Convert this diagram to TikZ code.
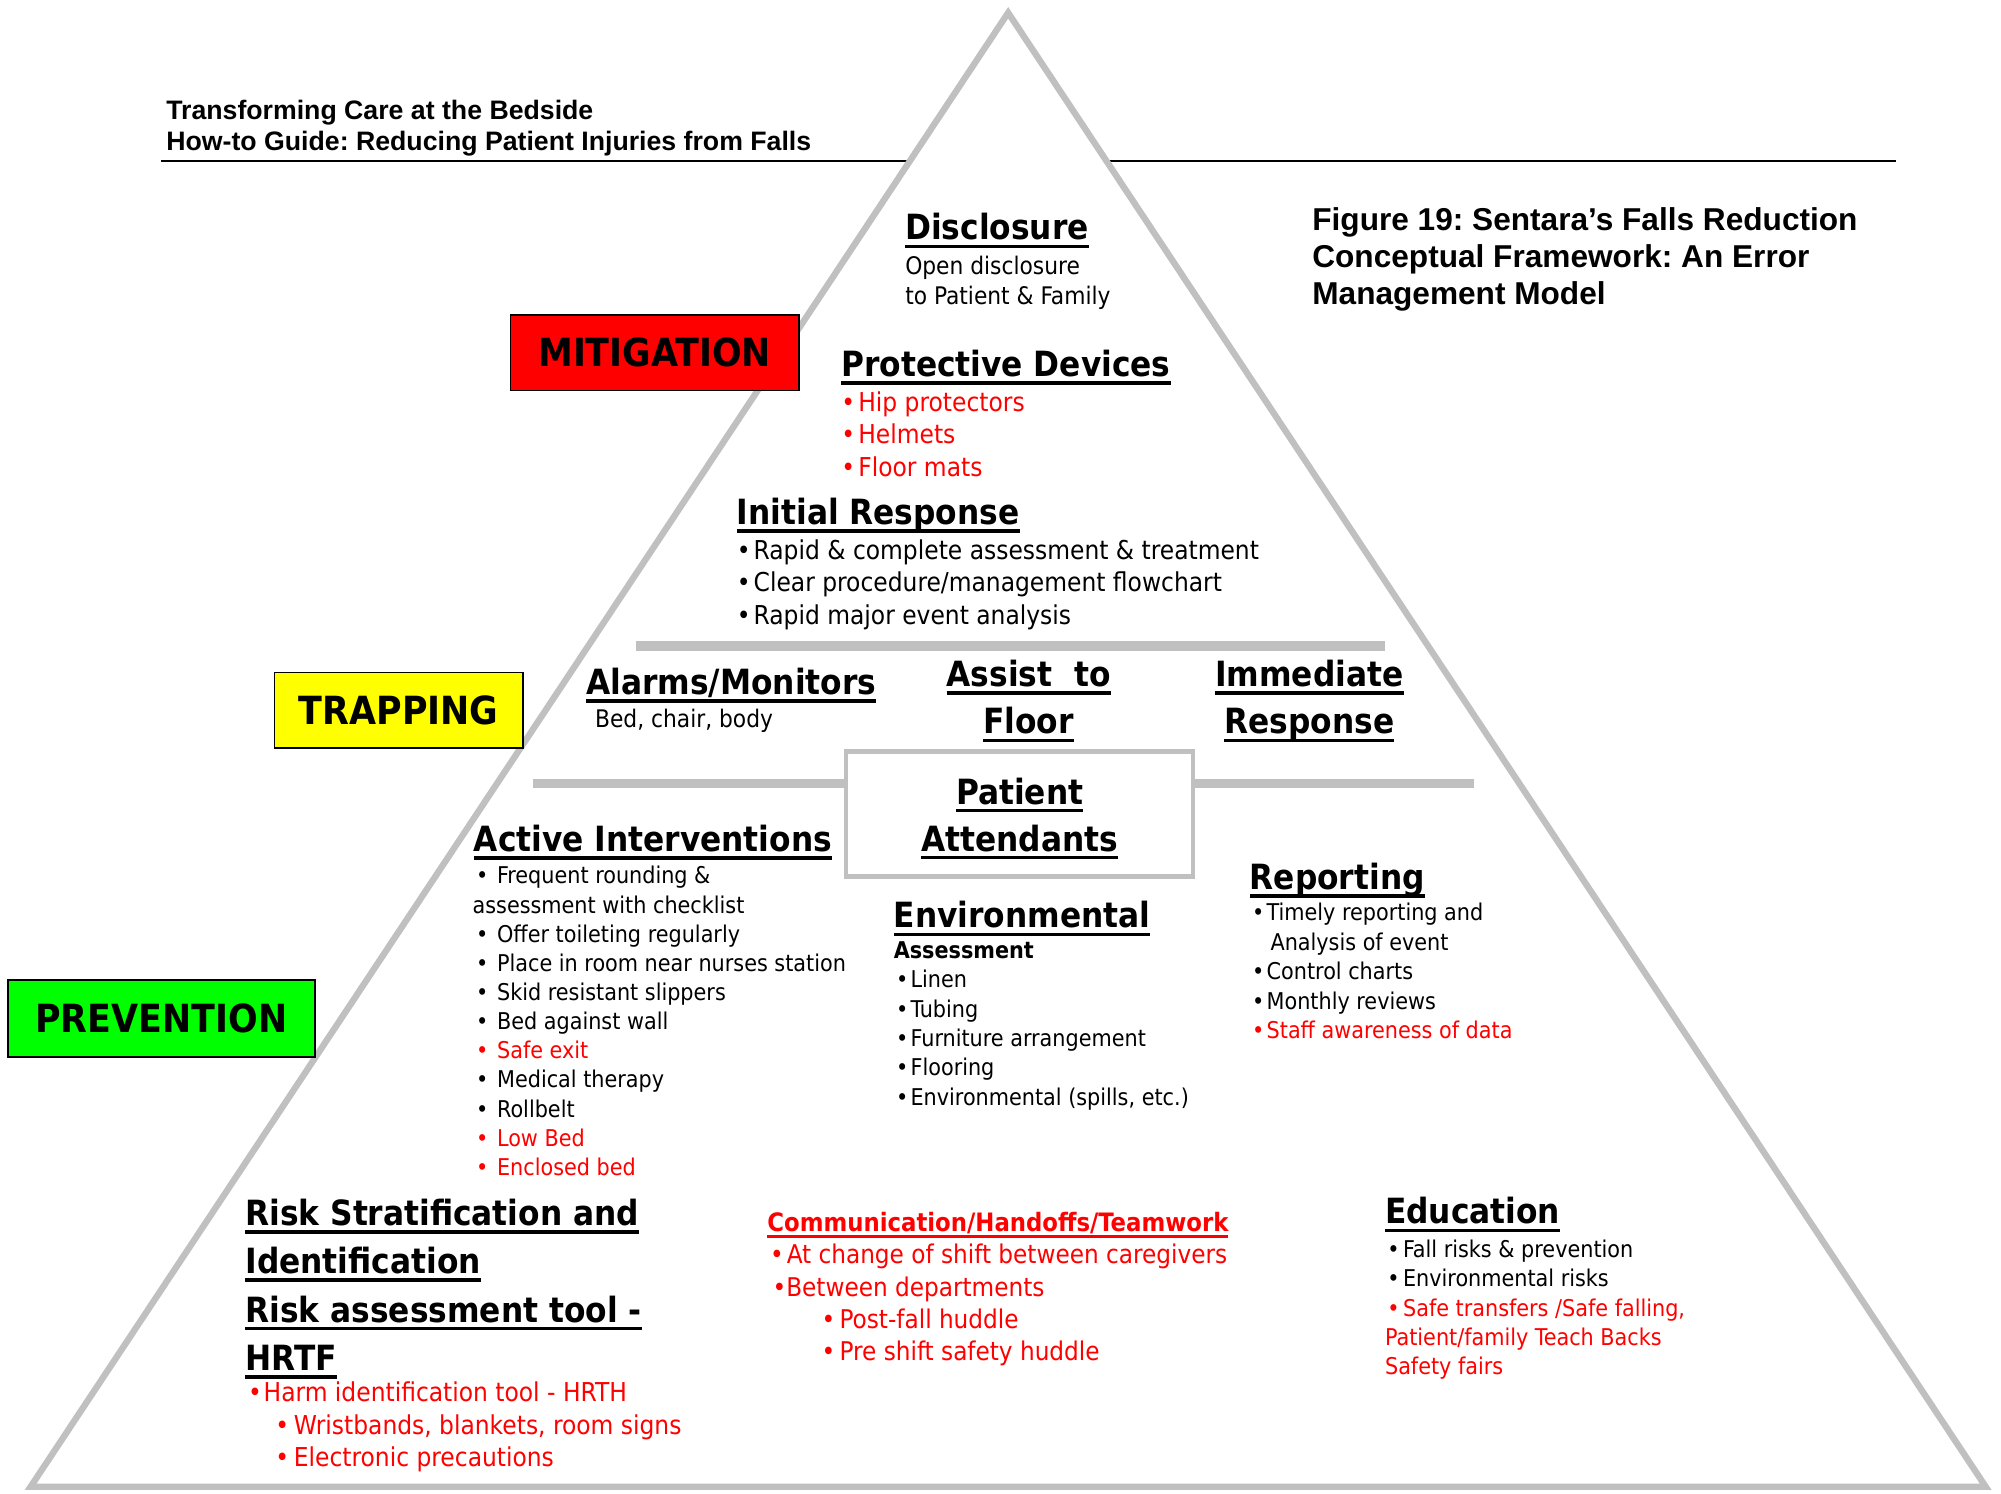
\documentclass[tikz,border=0pt]{standalone}
\usepackage{fontspec}
\setmainfont{DejaVu Sans Condensed}
\newfontfamily\arl{Liberation Sans}
\definecolor{barg}{HTML}{C0C0C0}
\definecolor{mitired}{HTML}{FF0000}
\definecolor{trapyel}{HTML}{FFFF00}
\definecolor{prevgrn}{HTML}{00FF00}
\frenchspacing
\newcommand\fsz[2]{\fontsize{#1}{#2}\selectfont}
\newcommand\ulin[1]{\setbox0\hbox{#1}\rlap{\copy0}\rule[-0.24em]{\wd0}{0.1em}}
\newcommand\bu[2][0pt]{\makebox[#2][l]{\hspace*{#1}\textbullet}}
\tikzstyle{tri}=[draw=barg, line width=0.1cm, fill=white]
\tikzstyle{bar}=[draw=barg, line width=0.15cm]
\tikzstyle{level}=[draw, line width=0.8pt, inner sep=0pt, font=\bfseries\fsz{17.3}{20}]
\tikzstyle{head}=[anchor=north west, inner sep=0pt, font=\bfseries\fsz{15.5}{21}]
\tikzstyle{items}=[anchor=north west, inner sep=0pt, align=left]

\begin{document}
\begin{tikzpicture}[x=0.02cm, y=-0.02cm]
\useasboundingbox (0,0) rectangle (1568,1170);
\draw[line width=0.03cm] (126,126) -- (1486,126);
\draw[tri] (790,10) -- (24,1165) -- (1556,1165) -- cycle;
\draw[bar] (498,506) -- (1085,506);
\draw[bar] (418,614) -- (663,614);
\draw[bar] (935,614) -- (1155,614);
\draw[draw=barg, line width=0.07cm] (663,589) rectangle (935,687);

\node[items, font=\arl\bfseries\fsz{11.9}{13.7}] (guide) at (130,78)
  {Transforming Care at the Bedside\\How-to Guide: Reducing Patient Injuries from Falls};
\node[items, font=\arl\bfseries\fsz{14.1}{16.5}] (figcap) at (1028,162)
  {Figure 19: Sentara’s Falls Reduction\\Conceptual Framework: An Error\\Management Model};

\node[level, fill=mitired, minimum width=4.52cm, minimum height=1.18cm] (mitig) at (513,276.5) {MITIGATION};
\node[level, fill=trapyel, minimum width=3.9cm, minimum height=1.18cm] (trap) at (312.5,556.5) {TRAPPING};
\node[level, fill=prevgrn, minimum width=4.82cm, minimum height=1.2cm] (prev) at (126.5,798) {PREVENTION};

\node[head] (discl) at (709,167) {\ulin{Disclosure}};
\node[items, font=\fsz{10.8}{13.7}] (discltxt) at (709,200) {Open disclosure\\to Patient \& Family};

\node[head] (protect) at (659,274) {\ulin{Protective Devices}};
\node[items, text=red, font=\fsz{11.6}{14.5}] (protlist) at (659,306.5)
  {\bu{.65em}Hip protectors\\\bu{.65em}Helmets\\\bu{.65em}Floor mats};

\node[head] (initial) at (577,390) {\ulin{Initial Response}};
\node[items, font=\fsz{11.6}{14.5}] (initlist) at (577,422.5)
  {\bu{.65em}Rapid \& complete assessment \& treatment\\
   \bu{.65em}Clear procedure/management flowchart\\
   \bu{.65em}Rapid major event analysis};

\node[head] (alarms) at (459,523) {\ulin{Alarms/Monitors}};
\node[items, font=\fsz{10.8}{13}] (alarmtxt) at (466,555) {Bed, chair, body};
\node[head, anchor=north, align=center] (assist) at (806,517) {\ulin{Assist\ \ to}\\\ulin{Floor}};
\node[head, anchor=north, align=center] (immed) at (1026,517) {\ulin{Immediate}\\\ulin{Response}};
\node[head, anchor=north, align=center] (attend) at (799,609) {\ulin{Patient}\\\ulin{Attendants}};

\node[head] (active) at (371,646) {\ulin{Active Interventions}};
\node[items, font=\fsz{10.3}{13}] (actlist) at (370,678.5)
  {\bu[.15em]{1.06em}Frequent rounding \&\\
   assessment with checklist\\
   \bu[.15em]{1.06em}Offer toileting regularly\\
   \bu[.15em]{1.06em}Place in room near nurses station\\
   \bu[.15em]{1.06em}Skid resistant slippers\\
   \bu[.15em]{1.06em}Bed against wall\\
   \textcolor{red}{\bu[.15em]{1.06em}Safe exit}\\
   \bu[.15em]{1.06em}Medical therapy\\
   \bu[.15em]{1.06em}Rollbelt\\
   \textcolor{red}{\bu[.15em]{1.06em}Low Bed}\\
   \textcolor{red}{\bu[.15em]{1.06em}Enclosed bed}};

\node[head] (environ) at (700,706) {\ulin{Environmental}};
\node[items, font=\fsz{10.3}{13.1}] (envlist) at (700,737.5)
  {\textbf{Assessment}\\
   \bu[.1em]{.73em}Linen\\
   \bu[.1em]{.73em}Tubing\\
   \bu[.1em]{.73em}Furniture arrangement\\
   \bu[.1em]{.73em}Flooring\\
   \bu[.1em]{.73em}Environmental (spills, etc.)};

\node[head] (report) at (979,676) {\ulin{Reporting}};
\node[items, font=\fsz{10.3}{13.1}] (replist) at (979,707.5)
  {\bu[.1em]{.73em}Timely reporting and\\
   \hspace*{.9em}Analysis of event\\
   \bu[.1em]{.73em}Control charts\\
   \bu[.1em]{.73em}Monthly reviews\\
   \textcolor{red}{\bu[.1em]{.73em}Staff awareness of data}};

\node[head, font=\bfseries\fsz{15.5}{21.6}, align=left] (risk) at (192,939)
  {\ulin{Risk Stratification and}\\\ulin{Identification}\\\ulin{Risk assessment tool -}\\\ulin{HRTF}};
\node[items, text=red, font=\fsz{11.6}{14.5}] (risklist) at (192,1082.6)
  {\bu[.1em]{.7em}Harm identification tool - HRTH\\
   \bu[1.15em]{1.86em}Wristbands, blankets, room signs\\
   \bu[1.15em]{1.86em}Electronic precautions};

\node[items, text=red, font=\bfseries\fsz{11.3}{14}] (commhd) at (601,949.5) {\ulin{Communication/Handoffs/Teamwork}};
\node[items, text=red, font=\fsz{11.5}{14.4}] (commlist) at (601,974.6)
  {\bu[.1em]{.75em}At change of shift between caregivers\\
   \hspace*{.2em}\textbullet Between departments\\
   \bu[2.1em]{2.8em}Post-fall huddle\\
   \bu[2.1em]{2.8em}Pre shift safety huddle};

\node[head] (educ) at (1085,938) {\ulin{Education}};
\node[items, font=\fsz{10.3}{13}] (edulist) at (1085,971.5)
  {\bu[.1em]{.78em}Fall risks \& prevention\\
   \bu[.1em]{.78em}Environmental risks\\
   \textcolor{red}{\bu[.1em]{.78em}Safe transfers /Safe falling,}\\
   \textcolor{red}{Patient/family Teach Backs}\\
   \textcolor{red}{Safety fairs}};
\end{tikzpicture}
\end{document}
